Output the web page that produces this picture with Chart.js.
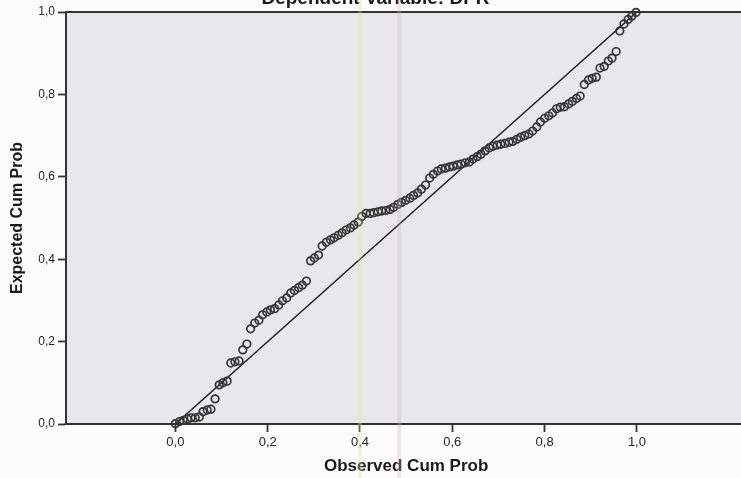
<!DOCTYPE html>
<html>
<head>
<meta charset="utf-8">
<script src="https://cdn.jsdelivr.net/npm/chart.js@4/dist/chart.umd.min.js"></script>
<style>
  html, body { margin: 0; padding: 0; overflow: hidden; background: #fcfcfc; width: 741px; height: 478px; }
  #wrap { position: absolute; left: 0; top: -20px; width: 752px; height: 498px; }
</style>
</head>
<body>
<div id="wrap"><canvas id="c" width="752" height="498"></canvas></div>
<script>
const chartTitle = 'Dependent Variable: DPR';
const xAxisTitle = 'Observed Cum Prob';
const yAxisTitle = 'Expected Cum Prob';

const observedCum = [0.000,0.009,0.017,0.026,0.034,0.043,0.052,0.060,0.069,0.077,
  0.086,0.095,0.103,0.112,0.120,0.129,0.138,0.146,0.155,0.163,
  0.172,0.181,0.189,0.198,0.206,0.215,0.224,0.232,0.241,0.250,
  0.258,0.267,0.275,0.284,0.293,0.301,0.310,0.318,0.327,0.336,
  0.344,0.353,0.361,0.370,0.379,0.387,0.396,0.404,0.413,0.422,
  0.430,0.439,0.447,0.456,0.465,0.473,0.482,0.490,0.499,0.508,
  0.516,0.525,0.533,0.542,0.551,0.559,0.568,0.576,0.585,0.594,
  0.602,0.611,0.619,0.628,0.637,0.645,0.654,0.662,0.671,0.680,
  0.688,0.697,0.705,0.714,0.723,0.731,0.740,0.748,0.757,0.766,
  0.774,0.783,0.791,0.800,0.809,0.817,0.826,0.834,0.843,0.852,
  0.860,0.869,0.877,0.886,0.895,0.903,0.912,0.920,0.929,0.938,
  0.946,0.955,0.963,0.972,0.981,0.989,0.998];

const expectedCum = [0.001,0.006,0.009,0.012,0.015,0.015,0.017,0.030,0.034,0.036,
  0.061,0.095,0.100,0.104,0.148,0.151,0.153,0.180,0.194,0.231,
  0.245,0.252,0.265,0.272,0.277,0.280,0.289,0.299,0.306,0.318,
  0.324,0.331,0.337,0.347,0.396,0.403,0.410,0.432,0.441,0.447,
  0.452,0.458,0.464,0.471,0.476,0.483,0.490,0.504,0.511,0.511,
  0.513,0.515,0.517,0.518,0.521,0.526,0.533,0.538,0.543,0.548,
  0.555,0.561,0.570,0.580,0.597,0.606,0.614,0.619,0.621,0.624,
  0.626,0.629,0.631,0.634,0.636,0.643,0.649,0.655,0.663,0.670,
  0.674,0.677,0.679,0.681,0.684,0.686,0.691,0.696,0.700,0.704,
  0.711,0.721,0.733,0.742,0.748,0.755,0.765,0.769,0.770,0.777,
  0.783,0.790,0.796,0.824,0.835,0.839,0.842,0.864,0.868,0.881,
  0.888,0.904,0.954,0.971,0.982,0.990,0.999];

const referenceLineX = [0, 1];
const referenceLineY = [0, 1];

const xTickValues = [0.0, 0.2, 0.4, 0.6, 0.8, 1.0];
const yTickValues = [0.0, 0.2, 0.4, 0.6, 0.8, 1.0];
const xRange = [-0.237, 1.237];
const yRange = [0, 1];

// faint coloured vertical marks present on the scanned original
const scanMarks = [
  { x: 0.400, color: 'rgba(232,222,150,0.30)' },
  { x: 0.485, color: 'rgba(236,160,184,0.30)' }
];

const fmt = v => v.toFixed(1).replace('.', ',');

const pointsData = observedCum.map((x, i) => ({ x: x, y: expectedCum[i] }));
const lineData = referenceLineX.map((x, i) => ({ x: x, y: referenceLineY[i] }));

const bgPlugin = {
  id: 'bg',
  beforeDraw(chart) {
    const { ctx, chartArea: a } = chart;
    ctx.save();
    ctx.fillStyle = '#fcfcfc';
    ctx.fillRect(0, 0, chart.width, chart.height);
    ctx.fillStyle = '#e8e8ea';
    ctx.fillRect(a.left, a.top, a.right - a.left, a.bottom - a.top);
    ctx.restore();
  },
  beforeDatasetsDraw(chart) {
    const { ctx, chartArea: a } = chart;
    ctx.save();
    ctx.strokeStyle = '#333';
    ctx.lineWidth = 2;
    ctx.beginPath();
    ctx.moveTo(a.left, a.top);
    ctx.lineTo(a.right, a.top);
    ctx.stroke();
    ctx.restore();
  },
  afterDraw(chart) {
    const { ctx } = chart;
    const xs = chart.scales.x;
    ctx.save();
    scanMarks.forEach(m => {
      const px = xs.getPixelForValue(m.x);
      ctx.fillStyle = m.color;
      ctx.fillRect(px - 2, 0, 4, chart.height);
    });
    ctx.restore();
  }
};

new Chart(document.getElementById('c'), {
  type: 'scatter',
  data: {
    datasets: [
      {
        type: 'line',
        data: lineData,
        borderColor: '#222',
        borderWidth: 1.5,
        pointRadius: 0,
        fill: false,
        order: 2
      },
      {
        data: pointsData,
        pointRadius: 3.8,
        pointStyle: 'circle',
        borderColor: '#353535',
        backgroundColor: 'rgba(0,0,0,0)',
        pointBorderWidth: 1.7,
        borderWidth: 1.7,
        clip: false,
        order: 1
      }
    ]
  },
  options: {
    responsive: false,
    animation: false,
    layout: { padding: { left: 0, right: 1, top: 0, bottom: 0 } },
    plugins: {
      legend: { display: false },
      tooltip: { enabled: false },
      title: {
        display: true,
        text: chartTitle,
        color: '#1a1a1a',
        font: { family: '"Liberation Sans", Arial, sans-serif', size: 19, weight: 'bold' },
        padding: { top: 7, bottom: 2.2 }
      }
    },
    scales: {
      x: {
        type: 'linear',
        min: xRange[0],
        max: xRange[1],
        afterBuildTicks(scale) { scale.ticks = xTickValues.map(v => ({ value: v })); },
        afterFit(scale) { scale.height = 54; },
        ticks: {
          callback: v => fmt(v),
          color: '#262626',
          padding: 3,
          font: { family: '"Liberation Sans", Arial, sans-serif', size: 13 },
          maxRotation: 0
        },
        grid: { display: true, drawOnChartArea: false, drawTicks: true, tickLength: 8, tickWidth: 1.8, tickColor: '#333' },
        border: { display: true, color: '#333', width: 2 },
        title: {
          display: true,
          text: xAxisTitle,
          color: '#1a1a1a',
          font: { family: '"Liberation Sans", Arial, sans-serif', size: 17, weight: 'bold' },
          padding: { top: 0, bottom: 1 }
        }
      },
      y: {
        type: 'linear',
        min: yRange[0],
        max: yRange[1],
        afterBuildTicks(scale) { scale.ticks = yTickValues.map(v => ({ value: v })); },
        afterFit(scale) { scale.width = 66; },
        ticks: {
          callback: v => fmt(v),
          color: '#262626',
          padding: 3,
          font: { family: '"Liberation Sans", Arial, sans-serif', size: 12 }
        },
        grid: { display: true, drawOnChartArea: false, drawTicks: true, tickLength: 8, tickWidth: 1.8, tickColor: '#333' },
        border: { display: true, color: '#333', width: 2 },
        title: {
          display: true,
          text: yAxisTitle,
          color: '#1a1a1a',
          font: { family: '"Liberation Sans", Arial, sans-serif', size: 16, weight: 'bold' },
          padding: { top: 8, bottom: 0 }
        }
      }
    }
  },
  plugins: [bgPlugin]
});
</script>
</body>
</html>
